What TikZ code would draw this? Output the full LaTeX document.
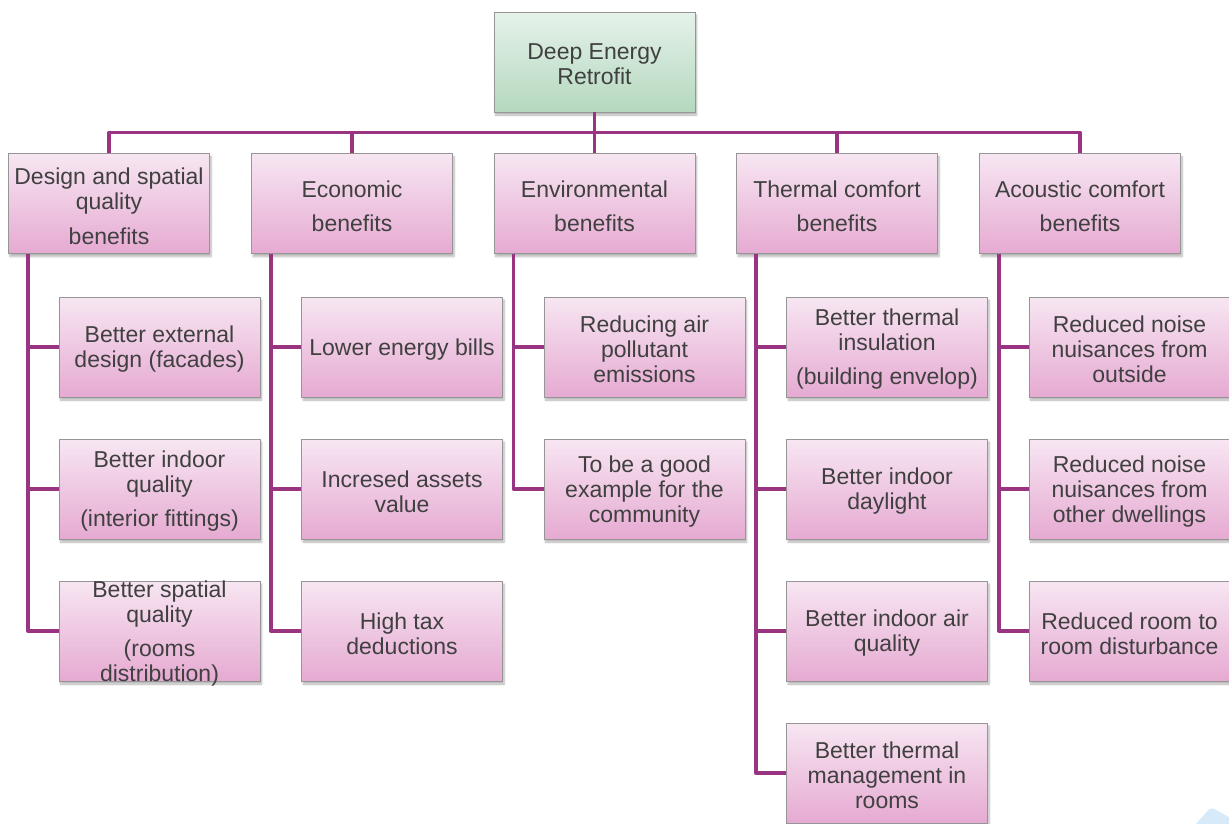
\documentclass[tikz,border=0pt]{standalone}
\usepackage{fontspec}
\setmainfont{Liberation Sans}
\usetikzlibrary{shadows.blur}
\definecolor{pinktop}{RGB}{247,230,242}
\definecolor{pinkbot}{RGB}{230,170,210}
\definecolor{greentop}{RGB}{230,242,234}
\definecolor{greenbot}{RGB}{180,216,190}
\definecolor{boxborder}{RGB}{150,150,150}
\definecolor{conncol}{RGB}{152,52,130}
\definecolor{txtcol}{RGB}{64,64,64}
\definecolor{markblue}{RGB}{215,234,249}
\tikzset{
  boxbase/.style={rectangle, draw=boxborder, line width=0.9pt, minimum width=201pt, minimum height=100pt, inner sep=0pt,
    blur shadow={shadow blur steps=6, shadow xshift=1.5pt, shadow yshift=-3pt, shadow opacity=30}},
  pbox/.style={boxbase, top color=pinktop, bottom color=pinkbot},
  gbox/.style={boxbase, top color=greentop, bottom color=greenbot},
  txt/.style={align=center, text=txtcol, inner sep=0pt, yshift=-2.5pt, font=\fontsize{23}{25}\selectfont},
  conn/.style={draw=conncol, line width=3.5pt, line join=round}
}
\begin{document}
\begin{tikzpicture}[x=1pt,y=-1pt]
\useasboundingbox (0,0) rectangle (1229,823);
\clip (0,0) rectangle (1229,823);
% watermark fragment
\fill[markblue, rounded corners=4pt] (1194,826) -- (1211,807) -- (1232,819) -- (1232,826) -- cycle;
% coordinates
\coordinate (bus) at (594.5,132.5);
% root
\node[gbox] (root) at (594.5,62) {};
\node[txt] (troot) at (root) {Deep Energy\\Retrofit};
% categories
\node[pbox] (c1) at (109,203.5) {};
\node[pbox] (c2) at (352,203.5) {};
\node[pbox] (c3) at (594.5,203.5) {};
\node[pbox] (c4) at (837,203.5) {};
\node[pbox] (c5) at (1080,203.5) {};
\node[txt] (tc1) at (c1) {Design and spatial\\quality\\[10pt]benefits};
\node[txt] (tc2) at (c2) {Economic\\[9pt]benefits};
\node[txt] (tc3) at (c3) {Environmental\\[9pt]benefits};
\node[txt] (tc4) at (c4) {Thermal comfort\\[9pt]benefits};
\node[txt] (tc5) at (c5) {Acoustic comfort\\[9pt]benefits};
% children column 1
\node[pbox] (k11) at (159.5,347) {};
\node[pbox] (k12) at (159.5,489) {};
\node[pbox] (k13) at (159.5,631) {};
\node[txt] (t11) at (k11) {Better external\\design (facades)};
\node[txt] (t12) at (k12) {Better indoor\\quality\\[9pt](interior fittings)};
\node[txt] (t13) at (k13) {Better spatial\\quality\\[9pt](rooms\\distribution)};
% column 2
\node[pbox] (k21) at (402,347) {};
\node[pbox] (k22) at (402,489) {};
\node[pbox] (k23) at (402,631) {};
\node[txt] (t21) at (k21) {Lower energy bills};
\node[txt] (t22) at (k22) {Incresed assets\\value};
\node[txt] (t23) at (k23) {High tax\\deductions};
% column 3
\node[pbox] (k31) at (644.5,347) {};
\node[pbox] (k32) at (644.5,489) {};
\node[txt] (t31) at (k31) {Reducing air\\pollutant\\emissions};
\node[txt] (t32) at (k32) {To be a good\\example for the\\community};
% column 4
\node[pbox] (k41) at (887,347) {};
\node[pbox] (k42) at (887,489) {};
\node[pbox] (k43) at (887,631) {};
\node[pbox] (k44) at (887,773) {};
\node[txt] (t41) at (k41) {Better thermal\\insulation\\[9pt](building envelop)};
\node[txt] (t42) at (k42) {Better indoor\\daylight};
\node[txt] (t43) at (k43) {Better indoor air\\quality};
\node[txt] (t44) at (k44) {Better thermal\\management in\\rooms};
% column 5
\node[pbox] (k51) at (1129.5,347) {};
\node[pbox] (k52) at (1129.5,489) {};
\node[pbox] (k53) at (1129.5,631) {};
\node[txt] (t51) at (k51) {Reduced noise\\nuisances from\\outside};
\node[txt] (t52) at (k52) {Reduced noise\\nuisances from\\other dwellings};
\node[txt] (t53) at (k53) {Reduced room to\\room disturbance};
% connectors
\draw[conn] (root.south) -- (bus);
\draw[conn] (c1.north) |- (bus) -| (c5.north);
\foreach \c in {c2,c3,c4} { \draw[conn] (\c.north) -- (\c.north |- bus); }
\foreach \c/\k in {c1/k11,c1/k12,c1/k13,c2/k21,c2/k22,c2/k23,c3/k31,c3/k32,c4/k41,c4/k42,c4/k43,c4/k44,c5/k51,c5/k52,c5/k53} {
  \draw[conn] ([xshift=20pt]\c.south west) |- (\k.west);
}
\end{tikzpicture}
\end{document}
